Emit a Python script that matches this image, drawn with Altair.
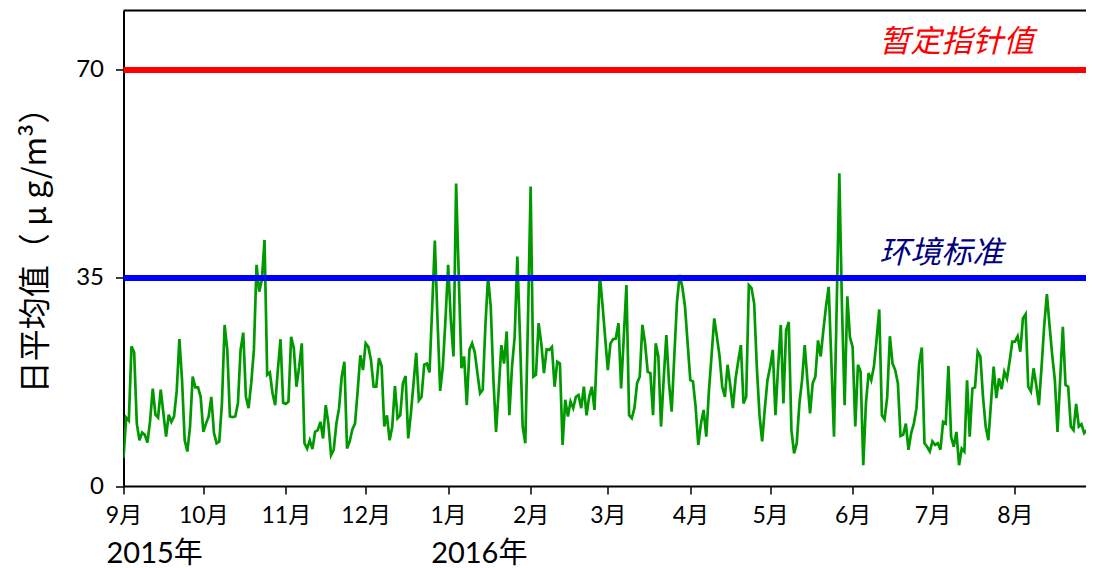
import altair as alt
import pandas as pd

# Daily mean PM2.5 (ug/m3), 2015-09-01 .. 2016-08-31
sep = [4.7, 11.5, 11.0, 23.5, 22.5, 10.5, 7.7, 9.0, 8.6, 7.3, 11.0, 16.4, 12.0, 11.5, 16.2,
       12.2, 8.3, 12.0, 10.8, 11.7, 16.0, 24.7, 17.8, 7.7, 5.8, 10.0, 18.4, 16.6, 16.6, 15.0]
oct_ = [9.1, 10.5, 11.7, 15.0, 8.9, 7.2, 7.5, 14.0, 27.1, 22.9, 11.7, 11.6, 11.7, 13.9, 22.9,
        25.8, 15.0, 13.1, 17.3, 22.9, 37.2, 32.7, 34.7, 41.4, 18.7, 19.1, 15.6, 13.6, 19.5, 24.7, 14.0]
nov = [13.8, 14.2, 25.1, 23.2, 16.7, 20.0, 24.0, 7.2, 6.3, 7.7, 6.2, 9.1, 9.4, 10.8, 8.0,
       13.6, 10.5, 5.2, 6.1, 10.5, 13.1, 18.4, 20.9, 6.3, 7.5, 9.5, 10.5, 16.0, 22.0, 19.5]
dec = [24.0, 23.4, 21.2, 16.7, 16.7, 21.5, 20.2, 10.0, 11.9, 7.7, 10.0, 16.8, 11.4, 11.9, 17.3,
       18.5, 8.0, 12.2, 17.3, 22.4, 14.4, 15.0, 20.4, 20.6, 19.1, 30.0, 41.3, 28.0, 16.0, 20.1, 28.0]
jan = [37.2, 28.0, 21.8, 50.9, 35.0, 19.8, 21.8, 13.6, 22.9, 24.0, 22.5, 19.0, 15.6, 16.2, 27.0,
       35.2, 30.2, 18.0, 9.1, 16.2, 23.7, 20.6, 26.0, 11.9, 20.1, 25.1, 38.6, 25.0, 10.0, 7.2, 28.0]
feb = [50.4, 18.4, 18.7, 27.4, 24.0, 19.0, 23.0, 22.9, 23.4, 16.7, 20.9, 20.6, 6.9, 14.5, 11.7,
       14.2, 13.1, 15.0, 15.3, 13.1, 16.7, 11.9, 15.0, 16.7, 12.8, 24.0, 35.5, 30.5, 25.0]
mar = [19.5, 24.0, 24.7, 24.8, 27.4, 16.4, 25.0, 33.8, 11.9, 11.4, 13.1, 17.3, 18.4, 27.1, 24.0,
       19.2, 19.0, 11.9, 24.0, 21.8, 10.0, 18.0, 25.4, 17.3, 12.5, 22.0, 31.0, 35.5, 33.5, 30.2, 24.0]
apr = [17.8, 17.6, 13.3, 6.9, 10.5, 12.8, 8.3, 16.0, 22.0, 28.2, 25.1, 21.8, 16.7, 15.0, 20.4,
       17.0, 13.1, 18.0, 21.0, 23.7, 13.9, 15.0, 33.8, 33.3, 30.7, 20.0, 12.0, 7.5, 13.0, 17.8]
may = [20.0, 22.9, 11.9, 20.0, 27.1, 13.9, 26.2, 27.6, 9.4, 5.5, 7.2, 13.9, 17.8, 23.7, 17.8,
       12.2, 17.3, 18.4, 24.5, 21.8, 26.2, 30.2, 33.5, 21.0, 8.3, 30.0, 52.6, 30.0, 13.6, 31.9, 25.0]
jun = [23.4, 10.0, 20.4, 19.2, 3.5, 13.9, 19.0, 17.8, 20.1, 24.6, 29.7, 11.9, 11.2, 15.0, 25.2,
       20.6, 19.5, 17.3, 8.4, 8.6, 10.5, 6.1, 8.9, 10.5, 13.1, 20.6, 23.3, 7.2, 6.6, 5.8]
jul = [7.5, 6.9, 7.2, 6.1, 10.8, 10.5, 20.2, 8.3, 6.6, 9.1, 3.5, 6.3, 5.8, 17.8, 8.3,
       16.4, 16.6, 22.6, 21.8, 15.0, 10.0, 7.7, 14.0, 20.1, 14.8, 18.1, 16.3, 19.2, 18.1, 21.0, 24.3]
aug = [24.3, 25.2, 22.6, 28.2, 28.9, 16.7, 15.9, 19.8, 17.0, 13.6, 20.0, 27.0, 32.3, 27.0, 22.0,
       17.8, 9.1, 18.0, 26.8, 17.0, 16.7, 10.0, 9.4, 13.8, 10.0, 10.4, 8.9, 9.4, 6.1, 13.9, 16.0]

values = sep + oct_ + nov + dec + jan + feb + mar + apr + may + jun + jul + aug
dates = pd.date_range("2015-09-01", periods=len(values), freq="D")
df = pd.DataFrame({"date": dates.strftime("%Y-%m-%dT00:00:00"), "pm": values})

# Standards
std_values = [70, 35]
std_names = ["暂定指针值", "环境标准"]
std_colors = ["#FF0000", "#0000FF"]
ann_colors = ["#FF0000", "#000080"]
ann_y = [74.6, 39.0]
ann_date = "2016-06-11T00:00:00"

year_labels = ["2015年", "2016年"]
year_dates = ["2015-09-01T00:00:00", "2016-01-01T00:00:00"]

month_ticks = [alt.DateTime(year=2015, month=m, date=1) for m in range(9, 13)] + \
              [alt.DateTime(year=2016, month=m, date=1) for m in range(1, 9)]

FONT = "Lato, 'Noto Sans CJK SC'"
CJK = "'Noto Sans CJK SC'"

x_start = alt.DateTime(year=2015, month=9, date=1)
x_end = alt.DateTime(year=2016, month=8, date=27, hours=16, minutes=48)
xscale = alt.Scale(domain=[x_start, x_end])
yscale = alt.Scale(domain=[0, 80])

x_axis = alt.Axis(values=month_ticks, format="%-m月", title=None, grid=False,
                  tickSize=8, tickWidth=1.5, tickColor="black",
                  domainColor="black", domainWidth=2, labelFlush=False,
                  labelFont=FONT, labelFontSize=23, labelColor="black",
                  labelPadding=10, labelAngle=0)
y_axis = alt.Axis(values=[0, 35, 70], title="日平均值（ μ g/m³）", grid=False,
                  tickSize=8, tickWidth=1.5, tickColor="black",
                  domainColor="black", domainWidth=2, labelFlush=False,
                  labelFont=FONT, labelFontSize=24, labelColor="black", labelPadding=12,
                  titleFont=CJK, titleFontSize=32, titleFontWeight="normal", titleColor="black",
                  titleAngle=-90, titleX=-88, titleY=231.5, titleAlign="center",
                  titleBaseline="middle")

std_df = pd.DataFrame({"v": std_values, "name": std_names, "color": std_colors})
rules = alt.Chart(std_df).mark_rule(strokeWidth=6).encode(
    y=alt.Y("v:Q", scale=yscale, axis=y_axis),
    color=alt.Color("color:N", scale=None),
)

top_border = alt.Chart(pd.DataFrame({"v": [80]})).mark_rule(color="black", strokeWidth=2).encode(
    x=alt.datum(x_start, scale=xscale),
    x2=alt.datum(x_end),
    y=alt.Y("v:Q", scale=yscale),
)

line = alt.Chart(df).mark_line(color="#009900", strokeWidth=2.7, clip=True).encode(
    x=alt.X("date:T", scale=xscale, axis=x_axis),
    y=alt.Y("pm:Q", scale=yscale),
)

ann_df = pd.DataFrame({"date": [ann_date, ann_date], "y": ann_y, "name": std_names, "color": ann_colors})
ann = alt.Chart(ann_df).mark_text(align="left", baseline="middle", fontSize=31,
                                  fontStyle="italic", font=CJK).encode(
    x=alt.X("date:T", scale=xscale),
    y=alt.Y("y:Q", scale=yscale),
    text="name:N",
    color=alt.Color("color:N", scale=None),
)

yr_df = pd.DataFrame({"date": year_dates, "label": year_labels})
years = alt.Chart(yr_df).mark_text(align="left", baseline="middle", fontSize=29, font=FONT,
                                   dx=-17, color="black").encode(
    x=alt.X("date:T", scale=xscale),
    y=alt.value(543.5),
    text="label:N",
)

chart = alt.layer(line, rules, top_border, ann, years).properties(
    width=962.5, height=475.5,
    autosize=alt.AutoSizeParams(type="none"),
    padding={"left": 115.5, "top": 2.5, "right": 0, "bottom": 82},
).configure_view(stroke=None).configure(background="white")

chart.save("out.html", embed_options={"renderer": "svg", "actions": False})
